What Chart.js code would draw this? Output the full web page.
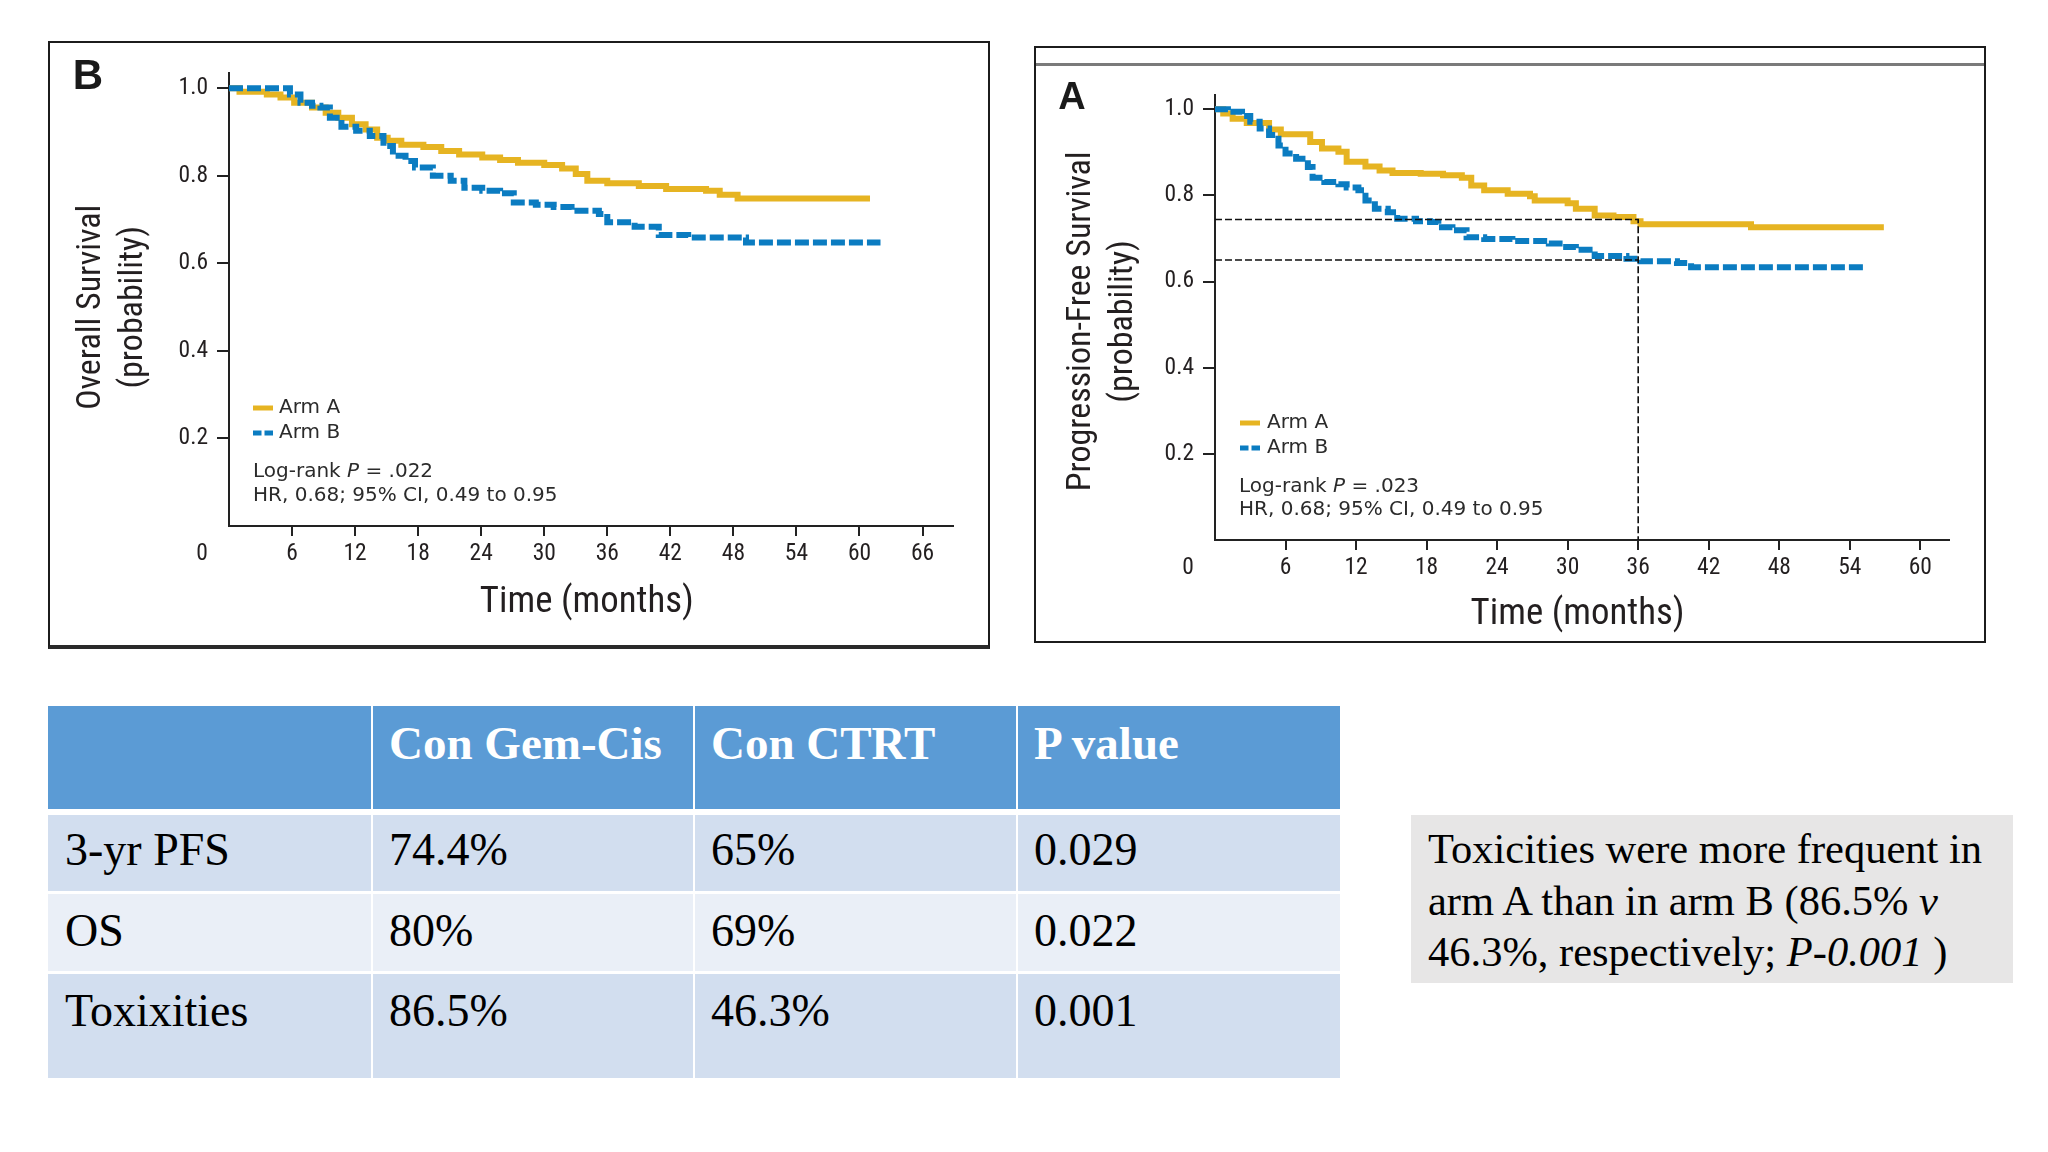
<!DOCTYPE html>
<html><head><meta charset="utf-8">
<script src="https://cdn.jsdelivr.net/npm/chart.js@4.4.1/dist/chart.umd.min.js"></script>
<style>
html,body{margin:0;padding:0;background:#fff;}
body{width:2048px;height:1152px;position:relative;overflow:hidden;font-family:'Liberation Serif','Times New Roman',serif;}
.box{position:absolute;box-sizing:border-box;background:#fff;}
#boxOS{left:48px;top:41px;width:942px;height:608px;border:2px solid #1c1c1c;border-bottom:4px solid #2a2a2a;}
#boxPFS{left:1034px;top:46px;width:952px;height:597px;border:2px solid #1c1c1c;}
#pfsRule{position:absolute;left:1036px;top:63px;width:948px;height:3px;background:#7a7a7a;}
canvas{position:absolute;}
#cOS{left:50px;top:43px;}
#cPFS{left:1036px;top:48px;}
.cell{position:absolute;box-sizing:border-box;}
.txt{position:absolute;white-space:nowrap;line-height:1;}
#note{position:absolute;left:1411px;top:815px;width:602px;height:168px;background:#e7e6e6;box-sizing:border-box;padding:8px 0 0 17px;font-size:42.5px;line-height:51.5px;color:#000;white-space:nowrap;}
</style></head><body>
<div class="box" id="boxOS"></div>
<div class="box" id="boxPFS"></div>
<div id="pfsRule"></div>
<canvas id="cOS" width="938" height="602"></canvas>
<canvas id="cPFS" width="948" height="593"></canvas>
<div id="table"></div>
<div id="note">Toxicities were more frequent in<br>arm A than in arm B (86.5% <i>v</i><br>46.3%, respectively; <i>P-0.001</i> )</div>
<script>
// ---------- DATA ----------
const osTimeA = [0, 1.0, 3.6, 4.9, 6.2, 7.9, 9.2, 10.4, 11.7, 13.0, 14.1, 15.1, 16.4, 18.5, 20.2, 21.9, 24.1, 25.8, 27.5, 30.0, 31.7, 33.0, 34.1, 36.0, 39.0, 41.6, 45.4, 46.7, 48.4, 61.0];
const osSurvA = [1.0, 0.992, 0.986, 0.979, 0.967, 0.956, 0.944, 0.933, 0.918, 0.906, 0.887, 0.88, 0.871, 0.866, 0.857, 0.849, 0.842, 0.836, 0.83, 0.825, 0.817, 0.804, 0.789, 0.783, 0.777, 0.77, 0.766, 0.757, 0.748, 0.748];
const osTimeB = [0, 4.5, 5.8, 6.8, 7.9, 8.7, 9.6, 10.7, 12.1, 13.4, 14.7, 15.6, 16.8, 17.7, 19.4, 21.1, 22.4, 24.1, 25.8, 27.1, 29.2, 30.9, 32.6, 35.2, 36.0, 38.6, 40.9, 43.7, 49.2, 62.0];
const osSurvB = [1.0, 1.0, 0.986, 0.967, 0.96, 0.956, 0.933, 0.912, 0.903, 0.891, 0.868, 0.846, 0.834, 0.819, 0.8, 0.789, 0.773, 0.766, 0.76, 0.739, 0.734, 0.729, 0.72, 0.713, 0.694, 0.684, 0.665, 0.659, 0.648, 0.648];

const pfsTimeA = [0, 0.7, 1.5, 2.7, 4.6, 5.6, 8.1, 9.1, 10.5, 11.2, 12.8, 14.0, 15.1, 17.5, 19.4, 21.0, 21.8, 22.9, 24.9, 26.8, 27.2, 30.0, 30.7, 32.3, 33.9, 35.6, 36.2, 45.6, 56.9];
const pfsSurvA = [1.0, 0.99, 0.978, 0.968, 0.953, 0.942, 0.924, 0.909, 0.901, 0.878, 0.867, 0.858, 0.852, 0.85, 0.847, 0.841, 0.823, 0.812, 0.804, 0.798, 0.788, 0.782, 0.769, 0.753, 0.75, 0.74, 0.733, 0.726, 0.726];
const pfsTimeB = [0, 1.1, 2.3, 3.0, 3.8, 4.6, 5.4, 6.0, 6.9, 7.9, 8.3, 9.3, 10.5, 11.2, 12.2, 12.8, 13.6, 14.7, 15.5, 17.1, 18.3, 19.0, 20.2, 21.4, 22.9, 25.3, 28.4, 29.6, 30.7, 32.3, 35.0, 36.2, 39.3, 40.5, 55.3];
const pfsSurvB = [1.0, 0.994, 0.984, 0.971, 0.955, 0.94, 0.916, 0.897, 0.885, 0.866, 0.841, 0.831, 0.826, 0.818, 0.812, 0.788, 0.769, 0.761, 0.746, 0.74, 0.738, 0.726, 0.719, 0.703, 0.699, 0.694, 0.688, 0.68, 0.674, 0.659, 0.653, 0.647, 0.643, 0.633, 0.633];

const pfsRefTime = 36;
const pfsRefA = 0.744;
const pfsRefB = 0.65;

const osXTicks = [6, 12, 18, 24, 30, 36, 42, 48, 54, 60, 66];
const pfsXTicks = [6, 12, 18, 24, 30, 36, 42, 48, 54, 60];
const yTicks = [0.2, 0.4, 0.6, 0.8, 1.0];

const armLabels = ['Arm A', 'Arm B'];
const osStats = ['.022', 'HR, 0.68; 95% CI, 0.49 to 0.95'];
const pfsStats = ['.023', 'HR, 0.68; 95% CI, 0.49 to 0.95'];

const tableHeader = ['', 'Con Gem-Cis', 'Con CTRT', 'P value'];
const tableRows = [
  ['3-yr PFS', '74.4%', '65%', '0.029'],
  ['OS', '80%', '69%', '0.022'],
  ['Toxixities', '86.5%', '46.3%', '0.001']
];

// ---------- STYLE ----------
const YELLOW = '#e6b422';
const BLUE = '#0b7cc1';
const INK = '#231f20';
const WIDE = "'DejaVu Sans','Verdana',sans-serif";
const NARROW = {family: "'Roboto Condensed','Liberation Sans Narrow','DejaVu Sans Condensed',sans-serif", weight: undefined};

function fstr(size) { return (NARROW.weight ? NARROW.weight + ' ' : '') + size + 'px ' + NARROW.family; }
function fitSize(text, target, lo, hi) {
  const c = document.createElement('canvas').getContext('2d');
  c.font = fstr(100);
  const w = c.measureText(text).width / 100;
  return Math.max(lo, Math.min(hi, target / w));
}
const Y_TITLE_SIZE = (fitSize('Progression-Free Survival', 339, 26, 40) + fitSize('Overall Survival', 206, 26, 40)) / 2;
const X_TITLE_SIZE = fitSize('Time (months)', 214, 28, 40);
const TICK_SIZE = 23.5;

function toXY(t, s) { return t.map((v, i) => ({x: v, y: s[i]})); }

const kmAnnot = {
  id: 'kmAnnot',
  afterDraw(chart, args, o) {
    const ctx = chart.ctx, xs = chart.scales.x;
    ctx.save();
    ctx.textBaseline = 'middle';
    ctx.font = 'bold ' + o.letterSize + 'px "Liberation Sans", Arial, sans-serif';
    ctx.textAlign = 'center';
    ctx.fillStyle = '#1a1a1a';
    ctx.fillText(o.letter, o.letterX, o.letterY);
    ctx.fillStyle = INK;
    ctx.font = fstr(TICK_SIZE);
    ctx.fillText('0', xs.getPixelForValue(0) - 27, xs.top + 10 + 4 + TICK_SIZE * 0.6);
    ctx.lineWidth = 5;
    ctx.lineCap = 'butt';
    ctx.strokeStyle = YELLOW;
    ctx.setLineDash([]);
    ctx.beginPath(); ctx.moveTo(o.sx, o.yA); ctx.lineTo(o.sx + 20, o.yA); ctx.stroke();
    ctx.strokeStyle = BLUE;
    ctx.setLineDash([8.5, 3]);
    ctx.beginPath(); ctx.moveTo(o.sx, o.yB); ctx.lineTo(o.sx + 20, o.yB); ctx.stroke();
    ctx.setLineDash([]);
    ctx.fillStyle = '#2b2b2b';
    ctx.textAlign = 'left';
    ctx.font = '20px ' + WIDE;
    ctx.fillText(armLabels[0], o.tx, o.yA);
    ctx.fillText(armLabels[1], o.tx, o.yB);
    let x = o.ax;
    const p1 = 'Log-rank ';
    ctx.fillText(p1, x, o.yL); x += ctx.measureText(p1).width;
    ctx.font = 'italic 20px ' + WIDE;
    ctx.fillText('P', x, o.yL); x += ctx.measureText('P').width;
    ctx.font = '20px ' + WIDE;
    ctx.fillText(' = ' + o.stats[0], x, o.yL);
    ctx.fillText(o.stats[1], o.ax, o.yH);
    ctx.restore();
  }
};

function kmChart(id, c) {
  const datasets = [
    {label: armLabels[0], data: toXY(c.tA, c.sA), borderColor: YELLOW, borderWidth: 6, stepped: true, pointRadius: 0, fill: false, order: 1},
    {label: armLabels[1], data: toXY(c.tB, c.sB), borderColor: BLUE, borderWidth: 6, borderDash: [14, 4], stepped: true, pointRadius: 0, fill: false, order: 0}
  ];
  (c.refs || []).forEach(r => datasets.push({data: r, borderColor: '#111', borderWidth: 1.6, borderDash: [7, 3], pointRadius: 0, fill: false, order: -1}));
  const tickFont = {family: NARROW.family, weight: NARROW.weight, size: TICK_SIZE};
  return new Chart(document.getElementById(id), {
    type: 'line',
    data: {datasets},
    options: {
      responsive: false, animation: false, events: [],
      layout: {padding: {top: c.padTop, right: c.padRight, left: 0, bottom: 0}},
      plugins: {legend: {display: false}, tooltip: {enabled: false}, kmAnnot: c.annot},
      scales: {
        x: {
          type: 'linear', min: 0, max: c.xMax,
          afterBuildTicks: s => { s.ticks = c.xTicks.map(v => ({value: v})); },
          afterFit: s => { s.height = c.xH; },
          ticks: {font: tickFont, color: INK, padding: 4, maxRotation: 0, autoSkip: false},
          grid: {drawOnChartArea: false, drawTicks: true, tickLength: 10, color: '#222', lineWidth: 2},
          border: {display: true, color: '#222', width: 2},
          title: {display: true, text: 'Time (months) ', font: {family: NARROW.family, weight: NARROW.weight, size: X_TITLE_SIZE, lineHeight: 1.2}, color: INK,
                  padding: {top: 0, bottom: Math.max(0, c.xTitleFromBottom - X_TITLE_SIZE * 0.6)}}
        },
        y: {
          type: 'linear', min: 0, max: c.yMax,
          afterBuildTicks: s => { s.ticks = yTicks.map(v => ({value: v})); },
          afterFit: s => { s.width = c.yW; },
          ticks: {font: tickFont, color: INK, padding: 9, callback: v => Number(v).toFixed(1)},
          grid: {drawOnChartArea: false, drawTicks: true, tickLength: 12, color: '#222', lineWidth: 2},
          border: {display: true, color: '#222', width: 2},
          title: {display: true, text: c.yTitle, font: {family: NARROW.family, weight: NARROW.weight, size: Y_TITLE_SIZE, lineHeight: 42 / Y_TITLE_SIZE}, color: INK, padding: {top: c.yTitlePad, bottom: 0}}
        }
      }
    },
    plugins: [kmAnnot]
  });
}

kmChart('cOS', {
  tA: osTimeA, sA: osSurvA, tB: osTimeB, sB: osSurvB,
  xMax: 68.9, yMax: 1.035, xTicks: osXTicks,
  padTop: 30, padRight: 35, xH: 119, yW: 179, xTitleFromBottom: 42.6, yTitlePad: 21,
  yTitle: ['Overall Survival  ', '(probability)  '],
  annot: {letter: 'B', letterSize: 42, letterX: 38, letterY: 34, sx: 203, tx: 229, yA: 365, yB: 390, yL: 429, yH: 453, ax: 203, stats: osStats}
});

kmChart('cPFS', {
  tA: pfsTimeA, sA: pfsSurvA, tB: pfsTimeB, sB: pfsSurvB,
  xMax: 62.4, yMax: 1.033, xTicks: pfsXTicks,
  padTop: 47, padRight: 35.5, xH: 101, yW: 179, xTitleFromBottom: 26.3, yTitlePad: 25,
  yTitle: ['Progression-Free Survival ', '(probability) '],
  refs: [
    [{x: 0, y: pfsRefA}, {x: pfsRefTime, y: pfsRefA}, {x: pfsRefTime, y: 0}],
    [{x: 0, y: pfsRefB}, {x: pfsRefTime, y: pfsRefB}]
  ],
  annot: {letter: 'A', letterSize: 38, letterX: 36, letterY: 51, sx: 204, tx: 231, yA: 375, yB: 400, yL: 439, yH: 462, ax: 203, stats: pfsStats}
});

// ---------- TABLE ----------
(function () {
  const colL = [48, 373, 695, 1018], colR = [371, 693, 1016, 1340];
  const rowT = [706, 815, 894, 974], rowB = [809, 891, 971, 1078];
  const base = [759, 866, 947, 1026.5];
  const padL = [17, 16, 16, 16];
  const bg = ['#5b9bd5', '#d2deef', '#eaeff7', '#d2deef'];
  const host = document.getElementById('table');
  const all = [tableHeader].concat(tableRows);
  all.forEach((row, r) => {
    row.forEach((txt, ci) => {
      const d = document.createElement('div');
      d.className = 'cell';
      d.style.left = colL[ci] + 'px'; d.style.top = rowT[r] + 'px';
      d.style.width = (colR[ci] - colL[ci]) + 'px'; d.style.height = (rowB[r] - rowT[r]) + 'px';
      d.style.background = bg[r];
      host.appendChild(d);
      if (txt) {
        const s = document.createElement('div');
        s.className = 'txt';
        const size = r === 0 ? 47 : 46;
        s.style.fontSize = size + 'px';
        s.style.fontWeight = r === 0 ? 'bold' : 'normal';
        s.style.color = r === 0 ? '#fff' : '#000';
        s.style.left = (colL[ci] + padL[ci]) + 'px';
        const asc = 0.891 * size, half = (size - 1.107 * size) / 2;
        s.style.top = (base[r] - asc - half) + 'px';
        s.textContent = txt;
        host.appendChild(s);
      }
    });
  });
})();
</script>
</body></html>
